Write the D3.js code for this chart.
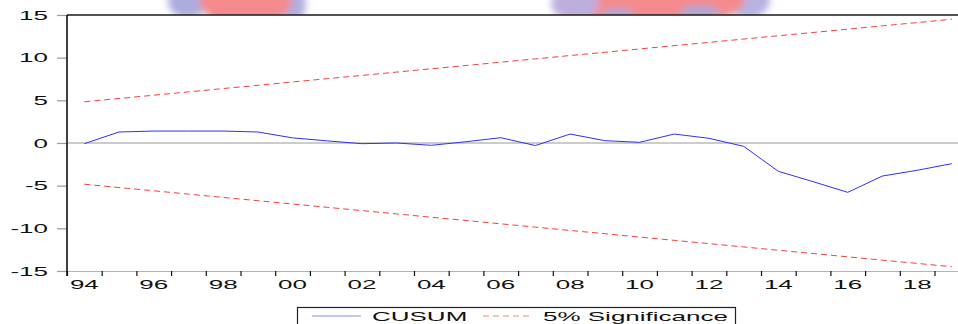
<!DOCTYPE html>
<html>
<head>
<meta charset="utf-8">
<script src="https://cdn.jsdelivr.net/npm/d3@7"></script>
<style>
  html, body { margin: 0; padding: 0; background: #fff; }
  svg { display: block; }
  text { font-family: "Liberation Sans", Arial, sans-serif; font-size: 13px; fill: #111; }
</style>
</head>
<body>
<svg id="chart" width="958" height="324"></svg>
<script>
// ---- data ----
const years = [1994,1995,1996,1997,1998,1999,2000,2001,2002,2003,2004,2005,2006,2007,2008,2009,2010,2011,2012,2013,2014,2015,2016,2017,2018,2019];
const cusum = [-0.08,1.29,1.40,1.40,1.40,1.29,0.60,0.25,-0.08,0.00,-0.27,0.15,0.62,-0.30,1.05,0.27,0.08,1.05,0.55,-0.39,-3.32,-4.53,-5.78,-3.87,-3.20,-2.42];
const upper5 = [4.83,5.22,5.60,5.99,6.38,6.76,7.15,7.54,7.92,8.31,8.70,9.08,9.47,9.86,10.25,10.63,11.02,11.41,11.79,12.18,12.57,12.95,13.34,13.73,14.11,14.50];
const lower5 = [-4.83,-5.22,-5.60,-5.99,-6.38,-6.76,-7.15,-7.54,-7.92,-8.31,-8.70,-9.08,-9.47,-9.86,-10.25,-10.63,-11.02,-11.41,-11.79,-12.18,-12.57,-12.95,-13.34,-13.73,-14.11,-14.50];
const yTicks = [-15,-10,-5,0,5,10,15];
const xLabelYears = [1994,1996,1998,2000,2002,2004,2006,2008,2010,2012,2014,2016,2018];
const xLabels = ["94","96","98","00","02","04","06","08","10","12","14","16","18"];
const legendNames = ["CUSUM", "5% Significance"];

(function () {
// ---- layout ----
const W = 958, H = 324;
const pLeft = 67, pTop = 15, pBottom = 271;
const yearWidth = 34.7;
const svg = d3.select("#chart");

const x = d3.scaleLinear().domain([1994, 2020]).range([pLeft, pLeft + 26 * yearWidth]);
const y = d3.scaleLinear().domain([-15, 15]).range([pBottom, pTop]);
const SX = 2; // horizontal stretch of the original text

// ---- watermark blobs above plot ----
const defs = svg.append("defs");
defs.append("filter").attr("id", "blur").attr("x", "-50%").attr("y", "-50%").attr("width", "200%").attr("height", "200%")
  .append("feGaussianBlur").attr("stdDeviation", 3.5);
defs.append("clipPath").attr("id", "topclip").append("rect").attr("x", 0).attr("y", 0).attr("width", W).attr("height", pTop);
const wm = svg.append("g").attr("clip-path", "url(#topclip)").append("g").attr("filter", "url(#blur)");
const blobs = [
  {cx: 188, cy: 2, rx: 20, ry: 16, c: "#adacdf"},
  {cx: 292, cy: 4, rx: 14, ry: 18, c: "#b2aee0"},
  {cx: 246, cy: 0, rx: 46, ry: 28, c: "#f58a8c"},
  {cx: 748, cy: 0, rx: 22, ry: 18, c: "#b6b2e2"},
  {cx: 655, cy: 0, rx: 90, ry: 28, c: "#f58a8c"},
  {cx: 575, cy: 4, rx: 24, ry: 16, c: "#bdaedd"},
  {cx: 618, cy: 14, rx: 16, ry: 5, c: "#a9a9dc"},
  {cx: 700, cy: 12, rx: 20, ry: 6, c: "#a9a9dc"}
];
wm.selectAll("ellipse").data(blobs).join("ellipse")
  .attr("cx", d => d.cx).attr("cy", d => d.cy).attr("rx", d => d.rx).attr("ry", d => d.ry)
  .attr("fill", d => d.c);

// ---- zero line and bottom axis line ----
svg.append("line").attr("x1", pLeft).attr("x2", W).attr("y1", y(0)).attr("y2", y(0))
  .attr("stroke", "#9a9a9a").attr("stroke-width", 1.2);
svg.append("line").attr("x1", pLeft).attr("x2", W).attr("y1", pBottom + 0.5).attr("y2", pBottom + 0.5)
  .attr("stroke", "#b5b5b5").attr("stroke-width", 1);

// ---- y axis ----
const yAxis = d3.axisLeft(y).tickValues(yTicks).tickSize(10).tickFormat("");
const gy = svg.append("g").attr("transform", `translate(${pLeft},0)`).call(yAxis);
gy.select(".domain").remove();
gy.selectAll(".tick line").attr("stroke", "#9a9a9a").attr("stroke-width", 1.2);
svg.append("g").selectAll("text").data(yTicks).join("text")
  .attr("transform", d => `translate(48,${y(d) + 4.5}) scale(${SX},1)`)
  .attr("text-anchor", "end")
  .text(d => d);

// ---- x axis ticks ----
const xAxis = d3.axisBottom(x).tickValues(years).tickSize(5).tickFormat("");
const gx = svg.append("g").attr("transform", `translate(0,${pBottom})`).call(xAxis);
gx.select(".domain").remove();
gx.selectAll(".tick line").attr("stroke", "#111").attr("stroke-width", 1.2);
svg.append("g").selectAll("text").data(xLabelYears).join("text")
  .attr("transform", d => `translate(${x(d + 0.5)},288.5) scale(${SX},1)`)
  .attr("text-anchor", "middle")
  .text((d, i) => xLabels[i]);

// ---- frame ----
svg.append("line").attr("x1", pLeft).attr("x2", W).attr("y1", pTop).attr("y2", pTop)
  .attr("stroke", "#1a1a1a").attr("stroke-width", 1.6);
svg.append("line").attr("x1", pLeft).attr("x2", pLeft).attr("y1", pTop).attr("y2", pBottom + 5)
  .attr("stroke", "#111").attr("stroke-width", 1.6);

// ---- series ----
const line = (vals) => d3.line().x((d, i) => x(years[i] + 0.5)).y(d => y(d))(vals);
svg.append("path").attr("d", line(upper5)).attr("fill", "none")
  .attr("stroke", "#ff3b3b").attr("stroke-width", 1).attr("stroke-dasharray", "6,4");
svg.append("path").attr("d", line(lower5)).attr("fill", "none")
  .attr("stroke", "#ff3b3b").attr("stroke-width", 1).attr("stroke-dasharray", "6,4");
svg.append("path").attr("d", line(cusum)).attr("fill", "none")
  .attr("stroke", "#2f2fff").attr("stroke-width", 1);

// ---- legend ----
const lg = svg.append("g");
lg.append("rect").attr("x", 297.5).attr("y", 307.5).attr("width", 438).attr("height", 30)
  .attr("fill", "#fff").attr("stroke", "#222").attr("stroke-width", 1.2);
lg.append("line").attr("x1", 312).attr("x2", 361).attr("y1", 316).attr("y2", 316)
  .attr("stroke", "#8888ff").attr("stroke-width", 1.2);
lg.append("text").attr("transform", `translate(372,320.5) scale(${SX},1)`).text(legendNames[0]);
lg.append("line").attr("x1", 483).attr("x2", 532).attr("y1", 316).attr("y2", 316)
  .attr("stroke", "#ff8080").attr("stroke-width", 1.2).attr("stroke-dasharray", "6,4");
lg.append("text").attr("transform", `translate(543,320.5) scale(${SX},1)`).text(legendNames[1]);
})();
</script>
</body>
</html>
